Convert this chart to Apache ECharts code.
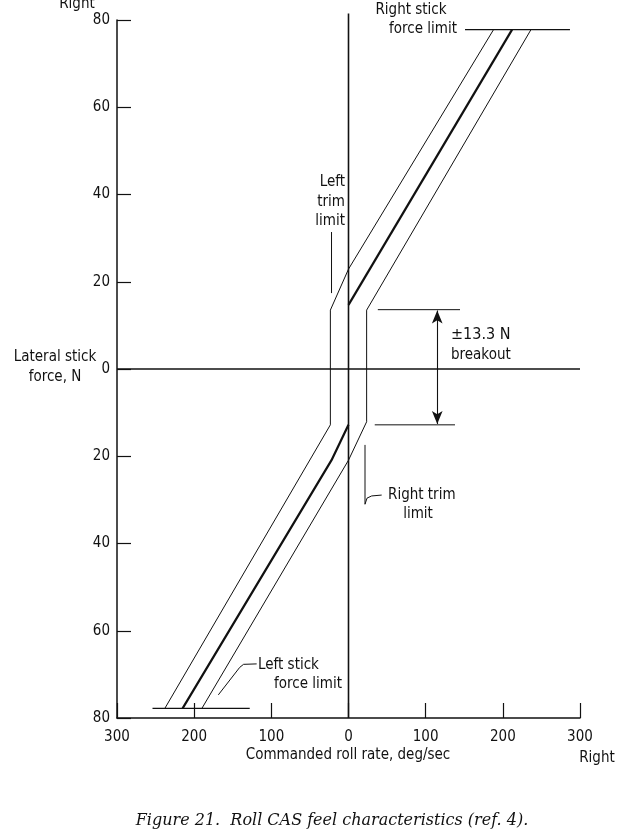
<!DOCTYPE html>
<html>
<head>
<meta charset="utf-8">
<script src="https://cdn.jsdelivr.net/npm/echarts@6/dist/echarts.min.js"></script>
<style>
html,body{margin:0;padding:0;background:#fff;}
#chart{width:640px;height:837px;}
</style>
</head>
<body>
<div id="chart"></div>
<script>
// ---- Data (commanded roll rate deg/sec, lateral stick force N) ----
const rateTicks = [-300, -200, -100, 0, 100, 200, 300];
const xTickLabels = ['300', '200', '100', '0', '100', '200', '300'];
const forceTicks = [-80, -60, -40, -20, 0, 20, 40, 60, 80];
const yTickLabels = ['80', '60', '40', '20', '0', '20', '40', '60', '80'];

const centerUpper = [[0, 14.7], [212, 77.8]];
const centerLower = [[0, -12.8], [-22, -20.9], [-215, -77.8]];
const leftEnvelope = [[-238, -77.8], [-23.5, -12.8], [-23.5, 13.5], [0, 22.9], [188, 77.8]];
const rightEnvelope = [[-190, -77.8], [0, -20.9], [23.5, -12.1], [23.5, 13.5], [236.5, 77.8]];
const rightForceLimit = [[151, 77.8], [287, 77.8]];
const leftForceLimit = [[-254, -77.8], [-128, -77.8]];
const breakoutUpper = [[38, 13.6], [144.5, 13.6]];
const breakoutLower = [[34, -12.8], [138, -12.8]];
const breakoutArrow = [[115, 13.4], [115, -12.6]];
const leftTrimLeader = [[-22, 31.4], [-22, 17.4]];
const rightTrimLeader = [[21.4, -17.4], [21.4, -31], [24, -29.6], [30, -29.1], [43, -28.9]];
const leftStickLeader = [[-168.7, -74.7], [-141, -68.4], [-136, -67.7], [-119, -67.6]];
const zeroRateLine = [[0, -80], [0, 81.5]];
const zeroForceLine = [[-300, 0], [300, 0]];

const FONT = "'Liberation Sans Narrow','DejaVu Sans Condensed','Arial Narrow',sans-serif";
const INK = '#111';

function lineSeries(data, width, extra) {
  return Object.assign({
    type: 'line', data: data, showSymbol: false, symbol: 'none',
    clip: false, silent: true,
    lineStyle: { color: INK, width: width },
    z: 3
  }, extra || {});
}

const chart = echarts.init(document.getElementById('chart'), null, { renderer: 'canvas' });

function txt(x, y, text, align, size, extra) {
  return Object.assign({
    type: 'text', x: x, y: y, silent: true,
    style: {
      text: text, fill: INK, font: (size || 15) + 'px ' + FONT,
      textAlign: align || 'left', textVerticalAlign: 'middle'
    }
  }, extra || {});
}

const option = {
  backgroundColor: '#fff',
  animation: false,
  grid: { left: 117, right: 60, top: 20, bottom: 119, containLabel: false },
  xAxis: {
    type: 'value', min: -300, max: 300, interval: 100,
    axisLine: { show: true, onZero: false, lineStyle: { color: INK, width: 1.5 } },
    axisTick: { show: true, inside: true, length: 15, lineStyle: { color: INK, width: 1.2 } },
    axisLabel: {
      margin: 12, color: INK, fontSize: 15, fontFamily: FONT,
      formatter: v => xTickLabels[rateTicks.indexOf(v)]
    },
    splitLine: { show: false }
  },
  yAxis: {
    type: 'value', min: -80, max: 80, interval: 20,
    axisLine: { show: true, onZero: false, lineStyle: { color: INK, width: 1.5 } },
    axisTick: { show: true, inside: true, length: 14, lineStyle: { color: INK, width: 1.2 } },
    axisLabel: {
      margin: 7, color: INK, fontSize: 15, fontFamily: FONT,
      formatter: v => yTickLabels[forceTicks.indexOf(v)]
    },
    splitLine: { show: false }
  },
  series: [
    lineSeries(zeroRateLine, 1.6),
    lineSeries(zeroForceLine, 1.6),
    lineSeries(leftEnvelope, 1),
    lineSeries(rightEnvelope, 1),
    lineSeries(centerUpper, 2.2),
    lineSeries(centerLower, 2.2),
    lineSeries(rightForceLimit, 1.1),
    lineSeries(leftForceLimit, 1.1),
    lineSeries(breakoutUpper, 1),
    lineSeries(breakoutLower, 1),
    lineSeries(leftTrimLeader, 1),
    lineSeries(rightTrimLeader, 1),
    lineSeries(leftStickLeader, 1),
    {
      type: 'line', data: [], silent: true,
      markLine: {
        silent: true, animation: false,
        symbol: ['arrow', 'arrow'], symbolSize: [8, 13],
        label: { show: false },
        lineStyle: { color: INK, width: 1.1, type: 'solid' },
        emphasis: { disabled: true },
        data: [[{ coord: breakoutArrow[0] }, { coord: breakoutArrow[1] }]]
      }
    }
  ],
  graphic: [
    txt(77, 4, 'Right', 'center', 15),
    txt(55, 357, 'Lateral stick', 'center', 15),
    txt(55, 377, 'force, N', 'center', 15),
    txt(348, 755, 'Commanded roll rate, deg/sec', 'center', 15),
    txt(597, 758, 'Right', 'center', 15),
    txt(411, 10, 'Right stick', 'center', 15),
    txt(457, 29, 'force limit', 'right', 15),
    txt(345, 182, 'Left', 'right', 15),
    txt(345, 202, 'trim', 'right', 15),
    txt(345, 221, 'limit', 'right', 15),
    txt(451, 335, '\u00b113.3 N', 'left', 16),
    txt(451, 355, 'breakout', 'left', 15),
    txt(388, 495, 'Right trim', 'left', 15),
    txt(418, 514, 'limit', 'center', 15),
    txt(258, 665, 'Left stick', 'left', 15),
    txt(342, 684, 'force limit', 'right', 15),
    {
      type: 'text', x: 332, y: 821, silent: true,
      style: {
        text: 'Figure 21.  Roll CAS feel characteristics (ref. 4).',
        fill: INK, font: 'italic 16px "DejaVu Serif", "Liberation Serif", serif',
        textAlign: 'center', textVerticalAlign: 'middle'
      }
    }
  ]
};
chart.setOption(option);
</script>
</body>
</html>
